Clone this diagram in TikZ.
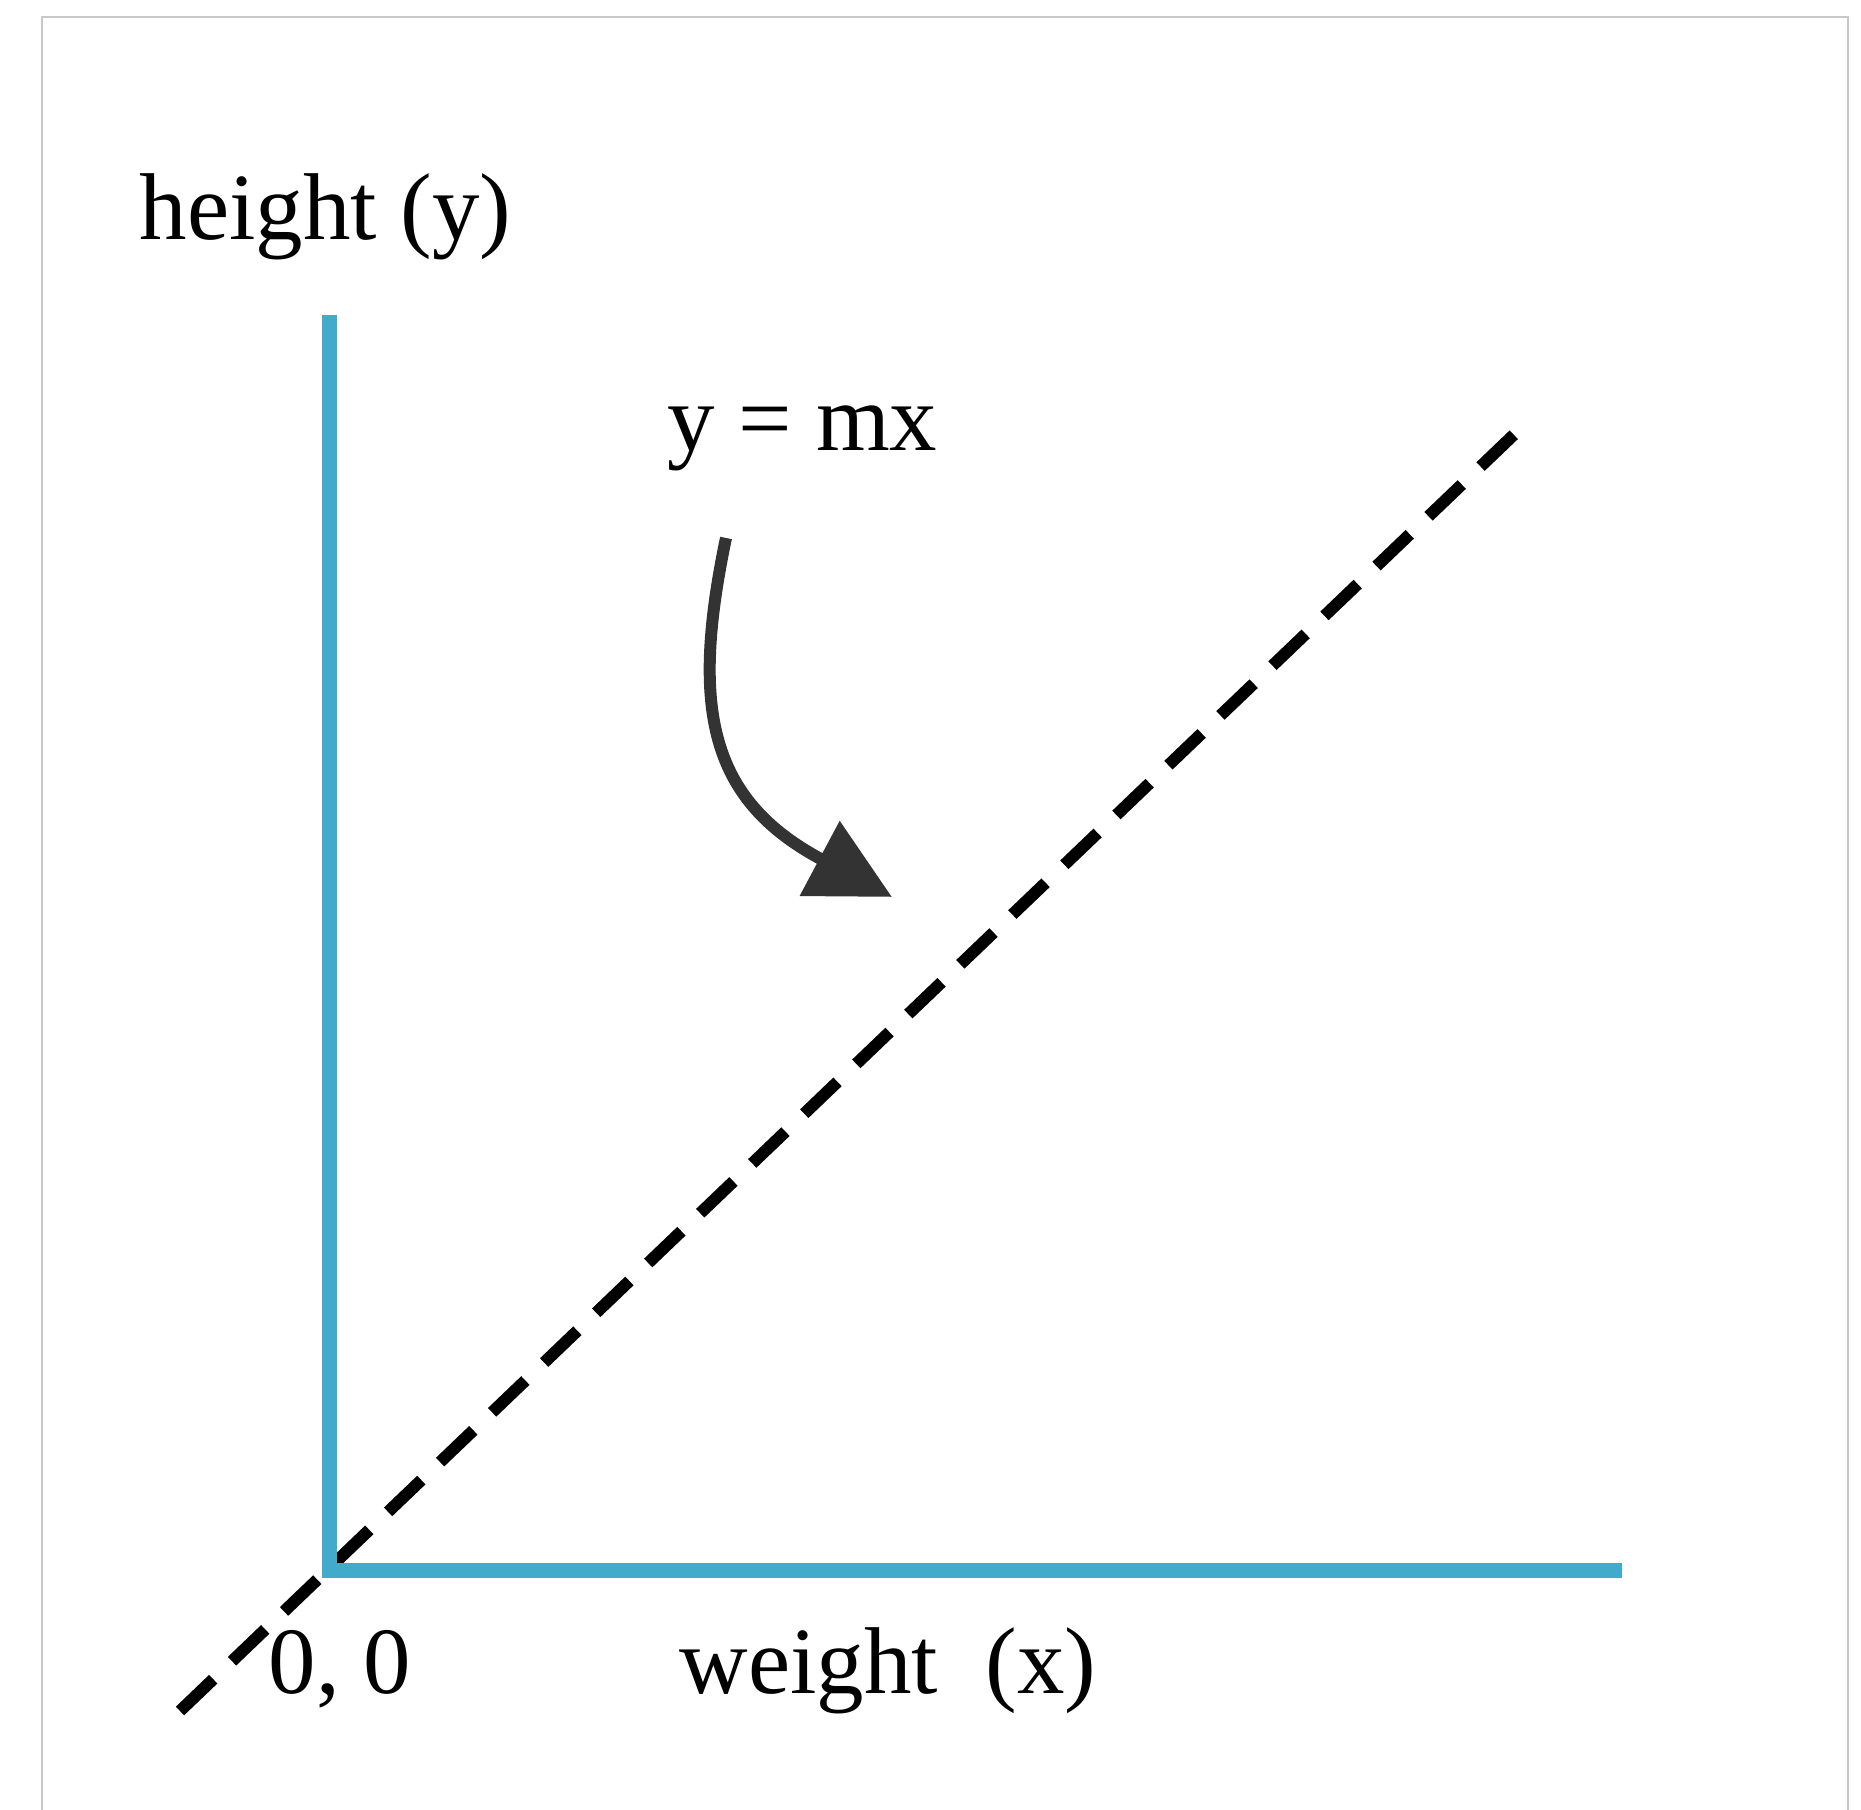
\documentclass[tikz,border=0pt]{standalone}
\usepackage{fontspec}
\setmainfont{Liberation Serif}
\usetikzlibrary{arrows.meta,calc,positioning}
\definecolor{axisblue}{RGB}{66,170,204}
\definecolor{arrowgray}{RGB}{51,51,51}
\definecolor{framegray}{RGB}{200,200,200}

\begin{document}
\begin{tikzpicture}[
    axis/.style={line width=0.15cm, axisblue},
    fitline/.style={line width=0.12cm, black, dash pattern=on 0.46cm off 0.26cm},
    label/.style={inner sep=0pt, anchor=base west, font=\fontsize{27}{30}\selectfont},
    pointer/.style={line width=0.12cm, arrowgray, -{Triangle[length=0.82cm, width=0.82cm]}}]

\useasboundingbox (0,0) rectangle (18.61,18.10);
\draw[framegray, line width=0.5pt] (0.42,0) |- (18.48,17.93) -- (18.48,0);

\coordinate (origin) at (3.29,2.39);
\coordinate (ytop) at (3.29,14.95);
\coordinate (xend) at (16.22,2.39);
\coordinate (lo) at (1.80,0.99);
\coordinate (hi) at (15.24,13.85);

\draw[fitline] (lo) -- (hi);
\draw[axis] (ytop) -- (origin) -- (xend);

\node[label] (ylab) at (1.39,15.70) {height (y)};
\node[label] (xlab) at (6.79,1.16) {weight\ \ (x)};
\node[label] (olab) at (2.68,1.16) {0, 0};
\node[label] (eqlab) at (6.67,13.59) {y = mx};

\coordinate (tail) at (7.26,12.72);
\coordinate (tip) at (8.92,9.13);
\draw[pointer] (tail) .. controls (6.9,11.0) and (7.1,10.1) .. (tip);
\end{tikzpicture}
\end{document}
